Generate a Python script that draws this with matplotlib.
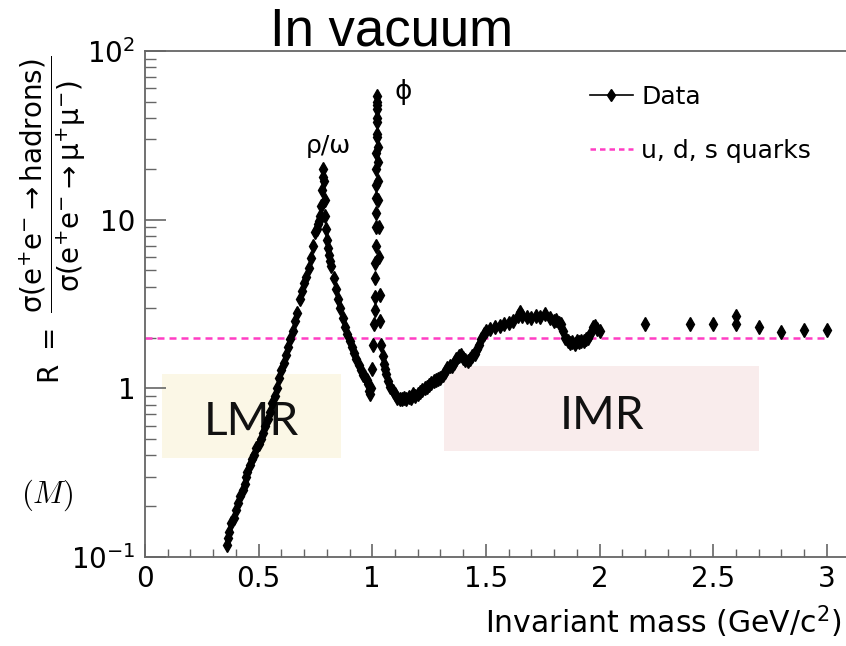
import matplotlib
matplotlib.use("Agg")
import matplotlib.pyplot as plt
from matplotlib.lines import Line2D
from matplotlib.patches import Rectangle
from matplotlib.ticker import LogLocator, MultipleLocator, NullFormatter
import numpy as np

# --- data ---
# rising side up to the rho/omega peak
mass_a = [0.360, 0.365, 0.370, 0.380, 0.390, 0.400, 0.410, 0.420, 0.430, 0.440,
          0.445, 0.450, 0.460, 0.470, 0.480, 0.490, 0.500, 0.510, 0.520, 0.530,
          0.540, 0.550, 0.560, 0.570, 0.580, 0.590, 0.600, 0.610, 0.620, 0.630,
          0.640, 0.650, 0.660, 0.670, 0.680, 0.690, 0.700, 0.710, 0.720, 0.730,
          0.740, 0.750, 0.755, 0.760, 0.765, 0.770, 0.775, 0.778, 0.781, 0.784]
r_a = [0.117, 0.13, 0.14, 0.16, 0.17, 0.19, 0.21, 0.23, 0.25, 0.27,
       0.30, 0.32, 0.35, 0.38, 0.40, 0.44, 0.47, 0.50, 0.54, 0.60,
       0.66, 0.72, 0.82, 0.90, 1.00, 1.15, 1.28, 1.42, 1.58, 1.75,
       1.95, 2.20, 2.50, 2.80, 3.40, 3.80, 4.20, 4.60, 5.20, 5.90,
       7.00, 8.50, 8.80, 9.40, 9.80, 10.5, 12.0, 15.0, 18.0, 20.0]

# falling side after the omega
mass_b = [0.787, 0.790, 0.793, 0.796, 0.800, 0.805, 0.810, 0.815, 0.820, 0.830,
          0.840, 0.850, 0.860, 0.870, 0.880, 0.890, 0.900, 0.910, 0.920, 0.930,
          0.940, 0.950, 0.960, 0.970, 0.975, 0.980, 0.985, 0.990]
r_b = [17.0, 13.0, 10.5, 8.8, 7.6, 6.8, 6.2, 5.7, 5.3, 4.5,
       3.9, 3.4, 3.0, 2.6, 2.3, 2.1, 1.9, 1.75, 1.62, 1.50,
       1.38, 1.28, 1.20, 1.16, 1.12, 1.06, 0.97, 0.92]

# phi peak
mass_c = [0.995, 1.000, 1.004, 1.008, 1.010, 1.012, 1.013, 1.014, 1.015, 1.016,
          1.0165, 1.017, 1.0175, 1.018, 1.0185, 1.019, 1.0195, 1.020, 1.0205, 1.021,
          1.0215, 1.022, 1.0225, 1.023, 1.024, 1.025, 1.026, 1.028, 1.030, 1.033,
          1.036, 1.040, 1.045, 1.050, 1.055, 1.060, 1.070, 1.080]
r_c = [1.00, 1.30, 1.80, 2.40, 2.90, 3.50, 4.50, 5.50, 7.00, 9.00,
       11.0, 13.5, 16.0, 20.0, 25.0, 31.0, 40.0, 48.0, 54.0, 50.0,
       45.0, 38.0, 32.0, 27.0, 22.0, 17.0, 13.0, 9.0, 6.0, 3.6,
       2.5, 1.80, 1.55, 1.40, 1.30, 1.22, 1.10, 1.02]

# continuum 1.1 - 2 GeV
mass_d = [1.09, 1.10, 1.11, 1.12, 1.13, 1.14, 1.15, 1.16, 1.17, 1.18,
          1.19, 1.20, 1.21, 1.22, 1.23, 1.24, 1.25, 1.26, 1.27, 1.28,
          1.29, 1.30, 1.31, 1.32, 1.33, 1.34, 1.35, 1.36, 1.37, 1.38,
          1.39, 1.40, 1.41, 1.42, 1.43, 1.44, 1.45, 1.46, 1.47, 1.48,
          1.49, 1.50, 1.52, 1.54, 1.56, 1.58, 1.60, 1.62, 1.64, 1.65,
          1.66, 1.68, 1.70, 1.72, 1.74, 1.76, 1.78, 1.80, 1.81, 1.82,
          1.83, 1.84, 1.85, 1.86, 1.87, 1.88, 1.89, 1.90, 1.91, 1.92,
          1.93, 1.94, 1.95, 1.96, 1.97, 1.98, 1.99, 2.00]
r_d = [0.97, 0.92, 0.88, 0.87, 0.86, 0.88, 0.86, 0.89, 0.88, 0.92,
       0.90, 0.93, 0.95, 0.98, 1.00, 1.02, 1.05, 1.07, 1.10, 1.12,
       1.13, 1.15, 1.20, 1.25, 1.32, 1.36, 1.35, 1.42, 1.50, 1.55,
       1.58, 1.52, 1.48, 1.45, 1.50, 1.55, 1.60, 1.70, 1.80, 1.95,
       2.10, 2.20, 2.25, 2.30, 2.35, 2.40, 2.45, 2.50, 2.70, 2.85,
       2.70, 2.65, 2.60, 2.70, 2.65, 2.75, 2.60, 2.50, 2.55, 2.45,
       2.40, 2.20, 2.00, 1.90, 1.85, 1.88, 1.82, 1.90, 1.88, 1.92,
       1.90, 1.95, 1.98, 2.10, 2.30, 2.35, 2.25, 2.20]

# sparse points above 2 GeV
mass_e = [2.2, 2.4, 2.5, 2.6, 2.6, 2.7, 2.8, 2.9, 3.0]
r_e = [2.40, 2.40, 2.40, 2.68, 2.40, 2.31, 2.17, 2.22, 2.21]

quark_level = 2.0
x_ticks = [0, 0.5, 1, 1.5, 2, 2.5, 3]
x_labels = ["0", "0.5", "1", "1.5", "2", "2.5", "3"]
y_ticks = [0.1, 1, 10, 100]
y_labels = ["$10^{-1}$", "1", "10", "$10^{2}$"]

mass = np.array(mass_a + mass_b + mass_c + mass_d + mass_e)
ratio = np.array(r_a + r_b + r_c + r_d + r_e)

fig = plt.figure(figsize=(8.46, 6.46), dpi=100)
ax = fig.add_axes([145 / 846, 89 / 646, 704.6 / 846, 506 / 646])
ax.set_yscale("log")
ax.set_xlim(0, 3.1)
ax.set_ylim(0.1, 100)

# LMR / IMR boxes
ax.add_patch(Rectangle((0.075, 0.385), 0.787, 1.21 - 0.385,
                       facecolor="#fbf7e6", edgecolor="none", zorder=0.5))
ax.add_patch(Rectangle((1.315, 0.425), 1.385, 1.356 - 0.425,
                       facecolor="#f9ecec", edgecolor="none", zorder=0.5))
ax.text(0.47, 0.526, "LMR", ha="center", va="baseline", fontsize=33,
        family="Lato", fontweight="normal", color="#111111", zorder=1)
ax.text(2.01, 0.571, "IMR", ha="center", va="baseline", fontsize=33,
        family="Lato", fontweight="normal", color="#111111", zorder=1)

ax.plot([0, 3.0], [quark_level, quark_level], color="#ff3dc4", lw=1.8,
        ls=(0, (2.8, 2.0)), zorder=2)

ax.errorbar(mass, ratio, yerr=0.05 * ratio, fmt="d", color="black", ms=7.5,
            elinewidth=1, capsize=0, zorder=3)

ax.text(0.805, 25.0, "ρ/ω", ha="center", va="baseline", fontsize=18)
ax.text(1.135, 51.6, "ϕ", ha="center", va="baseline", fontsize=19)

# axes styling, ROOT like
ax.set_xticks(x_ticks)
ax.set_xticklabels(x_labels)
ax.set_yticks(y_ticks)
ax.set_yticklabels(y_labels)
ax.xaxis.set_minor_locator(MultipleLocator(0.1))
ax.yaxis.set_minor_locator(LogLocator(base=10, subs=range(2, 10)))
ax.yaxis.set_minor_formatter(NullFormatter())
ax.tick_params(which="both", direction="in", color="#666666", labelsize=20,
               top=False, right=False)
ax.tick_params(axis="y", which="major", length=15, width=1.2, pad=7)
ax.tick_params(axis="y", which="minor", length=8, width=1.0)
ax.tick_params(axis="x", which="major", length=9.5, width=1.2, pad=6)
ax.tick_params(axis="x", which="minor", length=5.5, width=1.0)
for side in ["left", "bottom", "top", "right"]:
    ax.spines[side].set_color("#666666")
    ax.spines[side].set_linewidth(1.3)

handles = [Line2D([], [], color="black", lw=1.2, marker="d", ms=6),
           Line2D([], [], color="#ff3dc4", lw=1.8, ls=(0, (2.2, 1.6)))]
ax.legend(handles, ["Data", "u, d, s quarks"], loc="upper left",
          bbox_to_anchor=(590 / 846, 1 - 85 / 646), bbox_transform=fig.transFigure,
          frameon=False, fontsize=18, handlelength=1.7, handletextpad=0.35,
          borderpad=0, borderaxespad=0, labelspacing=1.2)

fig.text(0.995, 0.037, "Invariant mass (GeV/c$^{2}$)", ha="right", va="center",
         fontsize=21.5)
fig.text(53 / 846, 1 - 220 / 646,
         r"$\mathrm{R\ =\ }\dfrac{\mathrm{σ(e^{+}e^{-}\rightarrow hadrons)}}"
         r"{\mathrm{σ(e^{+}e^{-}\rightarrow μ^{+}μ^{-})}}$",
         rotation=90, ha="center", va="center", fontsize=20)
fig.text(392 / 846, 1 - 45 / 646, "In vacuum", ha="center", va="baseline",
         fontsize=38, family="Liberation Sans")
fig.text(73 / 846, 1 - 495 / 646, r"$(M)$", ha="right", va="center",
         fontsize=22, math_fontfamily="cm")

fig.savefig("out.png", dpi=100)
